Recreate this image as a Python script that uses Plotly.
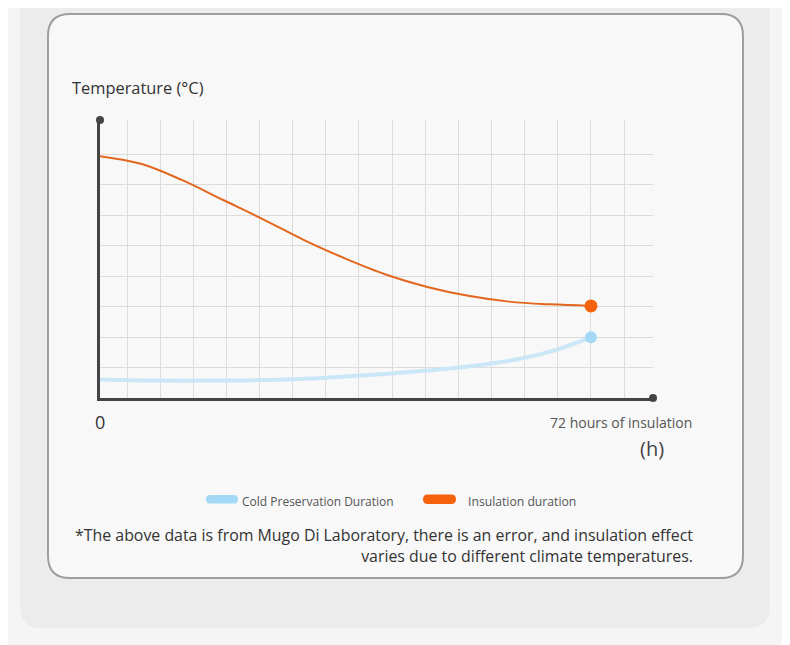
import plotly.graph_objects as go

# --- data (hours, relative temperature units) ---
insul_hours = [0, 6, 12, 18, 24, 30, 36, 42, 48, 54, 60, 66, 72]
insul_temp = [7.93, 7.68, 7.15, 6.50, 5.85, 5.17, 4.57, 4.04, 3.64, 3.35, 3.16, 3.07, 3.02]

cold_hours = [0, 8, 16, 24, 32, 40, 48, 54, 60, 66, 72]
cold_temp = [0.61, 0.575, 0.57, 0.59, 0.65, 0.76, 0.90, 1.03, 1.22, 1.52, 1.99]

X_MAX = 81.1   # end of the x axis arrow
Y_MAX = 9.115  # end of the y axis arrow
x_grid = [72 + 4.86 * k for k in range(-14, 2)]
y_grid = [1, 2, 3, 4, 5, 6, 7, 8]

# page body has an 8px margin, so the figure is drawn offset by it
OFF = 8
W, H = 790 - OFF, 645 - OFF
FONT = "Open Sans"
ORANGE_LINE = "#e2661e"
ORANGE_DOT = "#f5630f"
BLUE_LINE = "#c9e7f7"
BLUE_DOT = "#a3d9f5"
AXIS = "#444444"


def px(x):
    return (x - OFF) / W


def py(y):
    return 1 - (y - OFF) / H


def rounded(x0, y0, x1, y1, r):
    # rounded rectangle path in paper fractions from pixel box
    return (
        f"M {px(x0 + r)} {py(y0)} L {px(x1 - r)} {py(y0)} "
        f"Q {px(x1)} {py(y0)} {px(x1)} {py(y0 + r)} "
        f"L {px(x1)} {py(y1 - r)} Q {px(x1)} {py(y1)} {px(x1 - r)} {py(y1)} "
        f"L {px(x0 + r)} {py(y1)} Q {px(x0)} {py(y1)} {px(x0)} {py(y1 - r)} "
        f"L {px(x0)} {py(y0 + r)} Q {px(x0)} {py(y0)} {px(x0 + r)} {py(y0)} Z"
    )


fig = go.Figure()

fig.add_trace(go.Scatter(
    x=cold_hours, y=cold_temp, mode="lines",
    line=dict(color=BLUE_LINE, width=4, shape="spline"),
    hoverinfo="skip", showlegend=False
))
fig.add_trace(go.Scatter(
    x=[cold_hours[-1]], y=[cold_temp[-1]], mode="markers",
    marker=dict(color=BLUE_DOT, size=12), cliponaxis=False,
    hoverinfo="skip", showlegend=False
))
fig.add_trace(go.Scatter(
    x=insul_hours, y=insul_temp, mode="lines",
    line=dict(color=ORANGE_LINE, width=2, shape="spline"),
    hoverinfo="skip", showlegend=False
))
fig.add_trace(go.Scatter(
    x=[insul_hours[-1]], y=[insul_temp[-1]], mode="markers",
    marker=dict(color=ORANGE_DOT, size=13), cliponaxis=False,
    hoverinfo="skip", showlegend=False
))
# axis end dots
fig.add_trace(go.Scatter(
    x=[0, X_MAX], y=[Y_MAX, 0], mode="markers",
    marker=dict(color=AXIS, size=8), cliponaxis=False,
    hoverinfo="skip", showlegend=False
))

shapes = [
    dict(type="path", xref="paper", yref="paper", path=rounded(20, -40, 770, 628, 22),
         fillcolor="#ececec", line=dict(width=0), layer="below"),
    dict(type="path", xref="paper", yref="paper", path=rounded(48, 14, 743, 578, 22),
         fillcolor="#f8f8f8", line=dict(color="#9e9e9e", width=2), layer="below"),
    # legend pills
    dict(type="path", xref="paper", yref="paper", path=rounded(206, 495, 238, 503.5, 4.2),
         fillcolor=BLUE_DOT, line=dict(width=0)),
    dict(type="path", xref="paper", yref="paper", path=rounded(423, 494.5, 456, 504, 4.7),
         fillcolor=ORANGE_DOT, line=dict(width=0)),
]

annotations = [
    dict(text="Temperature (°C)", x=px(70), y=py(88), xanchor="left", yanchor="middle",
         font=dict(size=16.4, color="#333333")),
    dict(text="0", x=px(100), y=py(422), xanchor="center", yanchor="middle",
         font=dict(size=18, color="#333333")),
    dict(text="72 hours of insulation", x=px(694), y=py(422), xanchor="right", yanchor="middle",
         font=dict(size=14, color="#555555")),
    dict(text="(h)", x=px(666), y=py(448), xanchor="right", yanchor="middle",
         font=dict(size=20, color="#444444")),
    dict(text="Cold Preservation Duration", x=px(240), y=py(501), xanchor="left", yanchor="middle",
         font=dict(size=12, color="#555555")),
    dict(text="Insulation duration", x=px(466), y=py(501), xanchor="left", yanchor="middle",
         font=dict(size=12.2, color="#555555")),
    dict(text="*The above data is from Mugo Di Laboratory, there is an error, and insulation effect"
              "<br>varies due to different climate temperatures.",
         x=px(695), y=py(545), xanchor="right", yanchor="middle", align="right",
         font=dict(size=15.9, color="#333333")),
]
for a in annotations:
    a.update(xref="paper", yref="paper", showarrow=False)

fig.update_layout(
    width=W, height=H,
    margin=dict(l=0, r=0, t=0, b=0),
    paper_bgcolor="#f5f5f5",
    plot_bgcolor="rgba(0,0,0,0)",
    font=dict(family=FONT),
    shapes=shapes,
    annotations=annotations,
    xaxis=dict(
        domain=[px(100), px(653)], range=[0, X_MAX],
        tickvals=x_grid, showticklabels=False, ticks="",
        showgrid=True, gridcolor="#dcdcdc", gridwidth=1,
        showline=True, linecolor=AXIS, linewidth=2.5, zeroline=False, fixedrange=True,
    ),
    yaxis=dict(
        domain=[py(398), py(120)], range=[0, Y_MAX],
        tickvals=y_grid, showticklabels=False, ticks="",
        showgrid=True, gridcolor="#dcdcdc", gridwidth=1,
        showline=True, linecolor=AXIS, linewidth=2.5, zeroline=False, fixedrange=True,
    ),
)

fig.write_html("out.html")
